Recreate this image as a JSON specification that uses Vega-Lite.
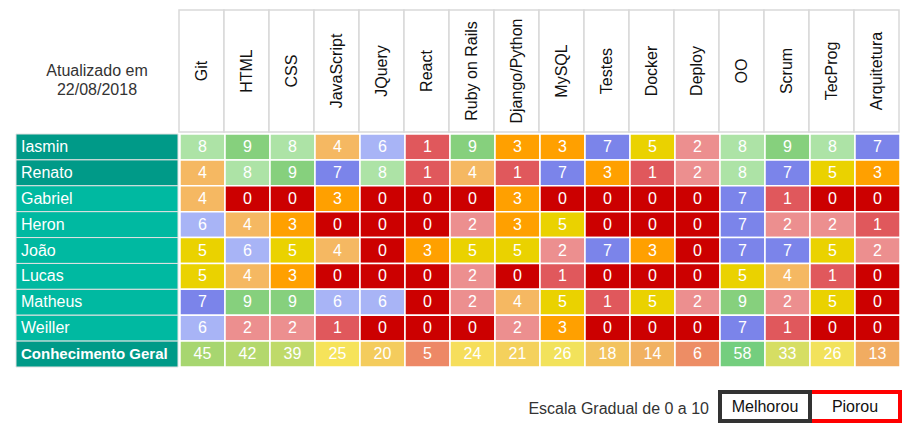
{
  "$schema": "https://vega.github.io/schema/vega-lite/v6.json",
  "padding": {"left": 15, "top": 9, "right": 0, "bottom": 0},
  "config": {"view": {"stroke": null}, "font": "Liberation Sans"},
  "datasets": {
    "skills": [{"s":"Git"},{"s":"HTML"},{"s":"CSS"},{"s":"JavaScript"},{"s":"JQuery"},{"s":"React"},{"s":"Ruby on Rails"},{"s":"Django/Python"},{"s":"MySQL"},{"s":"Testes"},{"s":"Docker"},{"s":"Deploy"},{"s":"OO"},{"s":"Scrum"},{"s":"TecProg"},{"s":"Arquitetura"}],
    "names": [{"p":"Iasmin"},{"p":"Renato"},{"p":"Gabriel"},{"p":"Heron"},{"p":"João"},{"p":"Lucas"},{"p":"Matheus"},{"p":"Weiller"},{"p":"Conhecimento Geral"}],
    "cells": [
      {"p":"Iasmin","s":"Git","v":8},{"p":"Iasmin","s":"HTML","v":9},{"p":"Iasmin","s":"CSS","v":8},{"p":"Iasmin","s":"JavaScript","v":4},{"p":"Iasmin","s":"JQuery","v":6},{"p":"Iasmin","s":"React","v":1},{"p":"Iasmin","s":"Ruby on Rails","v":9},{"p":"Iasmin","s":"Django/Python","v":3},{"p":"Iasmin","s":"MySQL","v":3},{"p":"Iasmin","s":"Testes","v":7},{"p":"Iasmin","s":"Docker","v":5},{"p":"Iasmin","s":"Deploy","v":2},{"p":"Iasmin","s":"OO","v":8},{"p":"Iasmin","s":"Scrum","v":9},{"p":"Iasmin","s":"TecProg","v":8},{"p":"Iasmin","s":"Arquitetura","v":7},
      {"p":"Renato","s":"Git","v":4},{"p":"Renato","s":"HTML","v":8},{"p":"Renato","s":"CSS","v":9},{"p":"Renato","s":"JavaScript","v":7},{"p":"Renato","s":"JQuery","v":8},{"p":"Renato","s":"React","v":1},{"p":"Renato","s":"Ruby on Rails","v":4},{"p":"Renato","s":"Django/Python","v":1},{"p":"Renato","s":"MySQL","v":7},{"p":"Renato","s":"Testes","v":3},{"p":"Renato","s":"Docker","v":1},{"p":"Renato","s":"Deploy","v":2},{"p":"Renato","s":"OO","v":8},{"p":"Renato","s":"Scrum","v":7},{"p":"Renato","s":"TecProg","v":5},{"p":"Renato","s":"Arquitetura","v":3},
      {"p":"Gabriel","s":"Git","v":4},{"p":"Gabriel","s":"HTML","v":0},{"p":"Gabriel","s":"CSS","v":0},{"p":"Gabriel","s":"JavaScript","v":3},{"p":"Gabriel","s":"JQuery","v":0},{"p":"Gabriel","s":"React","v":0},{"p":"Gabriel","s":"Ruby on Rails","v":0},{"p":"Gabriel","s":"Django/Python","v":3},{"p":"Gabriel","s":"MySQL","v":0},{"p":"Gabriel","s":"Testes","v":0},{"p":"Gabriel","s":"Docker","v":0},{"p":"Gabriel","s":"Deploy","v":0},{"p":"Gabriel","s":"OO","v":7},{"p":"Gabriel","s":"Scrum","v":1},{"p":"Gabriel","s":"TecProg","v":0},{"p":"Gabriel","s":"Arquitetura","v":0},
      {"p":"Heron","s":"Git","v":6},{"p":"Heron","s":"HTML","v":4},{"p":"Heron","s":"CSS","v":3},{"p":"Heron","s":"JavaScript","v":0},{"p":"Heron","s":"JQuery","v":0},{"p":"Heron","s":"React","v":0},{"p":"Heron","s":"Ruby on Rails","v":2},{"p":"Heron","s":"Django/Python","v":3},{"p":"Heron","s":"MySQL","v":5},{"p":"Heron","s":"Testes","v":0},{"p":"Heron","s":"Docker","v":0},{"p":"Heron","s":"Deploy","v":0},{"p":"Heron","s":"OO","v":7},{"p":"Heron","s":"Scrum","v":2},{"p":"Heron","s":"TecProg","v":2},{"p":"Heron","s":"Arquitetura","v":1},
      {"p":"João","s":"Git","v":5},{"p":"João","s":"HTML","v":6},{"p":"João","s":"CSS","v":5},{"p":"João","s":"JavaScript","v":4},{"p":"João","s":"JQuery","v":0},{"p":"João","s":"React","v":3},{"p":"João","s":"Ruby on Rails","v":5},{"p":"João","s":"Django/Python","v":5},{"p":"João","s":"MySQL","v":2},{"p":"João","s":"Testes","v":7},{"p":"João","s":"Docker","v":3},{"p":"João","s":"Deploy","v":0},{"p":"João","s":"OO","v":7},{"p":"João","s":"Scrum","v":7},{"p":"João","s":"TecProg","v":5},{"p":"João","s":"Arquitetura","v":2},
      {"p":"Lucas","s":"Git","v":5},{"p":"Lucas","s":"HTML","v":4},{"p":"Lucas","s":"CSS","v":3},{"p":"Lucas","s":"JavaScript","v":0},{"p":"Lucas","s":"JQuery","v":0},{"p":"Lucas","s":"React","v":0},{"p":"Lucas","s":"Ruby on Rails","v":2},{"p":"Lucas","s":"Django/Python","v":0},{"p":"Lucas","s":"MySQL","v":1},{"p":"Lucas","s":"Testes","v":0},{"p":"Lucas","s":"Docker","v":0},{"p":"Lucas","s":"Deploy","v":0},{"p":"Lucas","s":"OO","v":5},{"p":"Lucas","s":"Scrum","v":4},{"p":"Lucas","s":"TecProg","v":1},{"p":"Lucas","s":"Arquitetura","v":0},
      {"p":"Matheus","s":"Git","v":7},{"p":"Matheus","s":"HTML","v":9},{"p":"Matheus","s":"CSS","v":9},{"p":"Matheus","s":"JavaScript","v":6},{"p":"Matheus","s":"JQuery","v":6},{"p":"Matheus","s":"React","v":0},{"p":"Matheus","s":"Ruby on Rails","v":2},{"p":"Matheus","s":"Django/Python","v":4},{"p":"Matheus","s":"MySQL","v":5},{"p":"Matheus","s":"Testes","v":1},{"p":"Matheus","s":"Docker","v":5},{"p":"Matheus","s":"Deploy","v":2},{"p":"Matheus","s":"OO","v":9},{"p":"Matheus","s":"Scrum","v":2},{"p":"Matheus","s":"TecProg","v":5},{"p":"Matheus","s":"Arquitetura","v":0},
      {"p":"Weiller","s":"Git","v":6},{"p":"Weiller","s":"HTML","v":2},{"p":"Weiller","s":"CSS","v":2},{"p":"Weiller","s":"JavaScript","v":1},{"p":"Weiller","s":"JQuery","v":0},{"p":"Weiller","s":"React","v":0},{"p":"Weiller","s":"Ruby on Rails","v":0},{"p":"Weiller","s":"Django/Python","v":2},{"p":"Weiller","s":"MySQL","v":3},{"p":"Weiller","s":"Testes","v":0},{"p":"Weiller","s":"Docker","v":0},{"p":"Weiller","s":"Deploy","v":0},{"p":"Weiller","s":"OO","v":7},{"p":"Weiller","s":"Scrum","v":1},{"p":"Weiller","s":"TecProg","v":0},{"p":"Weiller","s":"Arquitetura","v":0},
      {"p":"Conhecimento Geral","s":"Git","v":45},{"p":"Conhecimento Geral","s":"HTML","v":42},{"p":"Conhecimento Geral","s":"CSS","v":39},{"p":"Conhecimento Geral","s":"JavaScript","v":25},{"p":"Conhecimento Geral","s":"JQuery","v":20},{"p":"Conhecimento Geral","s":"React","v":5},{"p":"Conhecimento Geral","s":"Ruby on Rails","v":24},{"p":"Conhecimento Geral","s":"Django/Python","v":21},{"p":"Conhecimento Geral","s":"MySQL","v":26},{"p":"Conhecimento Geral","s":"Testes","v":18},{"p":"Conhecimento Geral","s":"Docker","v":14},{"p":"Conhecimento Geral","s":"Deploy","v":6},{"p":"Conhecimento Geral","s":"OO","v":58},{"p":"Conhecimento Geral","s":"Scrum","v":33},{"p":"Conhecimento Geral","s":"TecProg","v":26},{"p":"Conhecimento Geral","s":"Arquitetura","v":13}
    ]
  },
  "vconcat": [
    {
      "vconcat": [
        {
          "hconcat": [
            {
              "width": 162, "height": 122,
              "data": {"values": [{"t": "Atualizado em\n22/08/2018"}]},
              "mark": {"type": "text", "lineBreak": "\n", "fontSize": 16, "color": "#333333", "lineHeight": 19, "baseline": "middle", "align": "center"},
              "encoding": {"text": {"field": "t"}}
            },
            {
              "width": 720, "height": 122,
              "data": {"name": "skills"},
              "layer": [
                {
                  "mark": {"type": "rect", "fill": "#ffffff", "stroke": "#d9d9d9", "strokeWidth": 1.5},
                  "encoding": {"x": {"field": "s", "type": "nominal", "sort": null, "axis": null, "scale": {"type": "band", "domain": ["Git","HTML","CSS","JavaScript","JQuery","React","Ruby on Rails","Django/Python","MySQL","Testes","Docker","Deploy","OO","Scrum","TecProg","Arquitetura"], "paddingInner": 0, "paddingOuter": 0}}}
                },
                {
                  "mark": {"type": "text", "angle": 270, "fontSize": 16, "color": "#111111", "baseline": "middle", "align": "center"},
                  "encoding": {
                    "x": {"field": "s", "type": "nominal", "sort": null, "axis": null, "scale": {"type": "band", "domain": ["Git","HTML","CSS","JavaScript","JQuery","React","Ruby on Rails","Django/Python","MySQL","Testes","Docker","Deploy","OO","Scrum","TecProg","Arquitetura"], "paddingInner": 0, "paddingOuter": 0}},
                    "text": {"field": "s"}
                  }
                }
              ]
            }
          ],
          "spacing": 0
        },
        {
          "hconcat": [
            {
              "width": 162, "height": 233,
              "data": {"name": "names"},
              "layer": [
                {
                  "mark": {"type": "rect", "stroke": "#e2e2e2", "strokeWidth": 1},
                  "encoding": {
                    "y": {"field": "p", "type": "nominal", "axis": null, "scale": {"type": "band", "domain": ["Iasmin","Renato","Gabriel","Heron","João","Lucas","Matheus","Weiller","Conhecimento Geral"], "paddingInner": 0, "paddingOuter": 0}},
                    "fill": {"field": "p", "type": "nominal", "legend": null, "scale": {"domain": ["Iasmin","Renato","Gabriel","Heron","João","Lucas","Matheus","Weiller","Conhecimento Geral"], "range": ["#009a88","#009a88","#00b9a1","#00b9a1","#00b9a1","#00b9a1","#00b9a1","#00b9a1","#009a88"]}}
                  }
                },
                {
                  "transform": [{"filter": "datum.p !== 'Conhecimento Geral'"}],
                  "mark": {"type": "text", "fontSize": 16, "color": "#ffffff", "align": "left", "baseline": "middle", "dx": 5},
                  "encoding": {
                    "x": {"datum": "n", "type": "nominal", "bandPosition": 0, "axis": null, "scale": {"type": "band", "paddingInner": 0, "paddingOuter": 0}},
                    "y": {"field": "p", "type": "nominal", "axis": null},
                    "text": {"field": "p"}
                  }
                },
                {
                  "transform": [{"filter": "datum.p === 'Conhecimento Geral'"}],
                  "mark": {"type": "text", "fontSize": 15, "fontWeight": "bold", "color": "#ffffff", "align": "left", "baseline": "middle", "dx": 5},
                  "encoding": {
                    "x": {"datum": "n", "type": "nominal", "bandPosition": 0, "axis": null, "scale": {"type": "band", "paddingInner": 0, "paddingOuter": 0}},
                    "y": {"field": "p", "type": "nominal", "axis": null},
                    "text": {"field": "p"}
                  }
                }
              ]
            },
            {
              "width": 720, "height": 233,
              "data": {"name": "cells"},
              "encoding": {
                "x": {"field": "s", "type": "nominal", "sort": null, "axis": null, "scale": {"type": "band", "domain": ["Git","HTML","CSS","JavaScript","JQuery","React","Ruby on Rails","Django/Python","MySQL","Testes","Docker","Deploy","OO","Scrum","TecProg","Arquitetura"], "paddingInner": 0, "paddingOuter": 0}},
                "y": {"field": "p", "type": "nominal", "axis": null, "scale": {"type": "band", "domain": ["Iasmin","Renato","Gabriel","Heron","João","Lucas","Matheus","Weiller","Conhecimento Geral"], "paddingInner": 0, "paddingOuter": 0}}
              },
              "layer": [
                {
                  "transform": [{"filter": "datum.p !== 'Conhecimento Geral'"}],
                  "mark": {"type": "rect", "stroke": "#ffffff", "strokeWidth": 1.5},
                  "encoding": {
                    "fill": {"field": "v", "type": "ordinal", "legend": null, "scale": {"domain": [0,1,2,3,4,5,6,7,8,9,10], "range": ["#cc0000","#e0585c","#ec8f8f","#ffa000","#f5b862","#ead200","#a8b4f6","#7b84ea","#ade3a6","#86d07d","#57bb8a"]}}
                  }
                },
                {
                  "transform": [{"filter": "datum.p === 'Conhecimento Geral'"}],
                  "mark": {"type": "rect", "stroke": "#ffffff", "strokeWidth": 1.5},
                  "encoding": {
                    "fill": {"field": "v", "type": "quantitative", "legend": null, "scale": {"type": "linear", "domain": [5, 25, 58], "range": ["#ed8866", "#f6e35a", "#74ce7e"], "interpolate": "rgb"}}
                  }
                },
                {
                  "mark": {"type": "text", "fontSize": 16, "color": "#ffffff", "align": "center", "baseline": "middle"},
                  "encoding": {"text": {"field": "v", "type": "quantitative"}}
                }
              ],
              "resolve": {"scale": {"fill": "independent"}}
            }
          ],
          "spacing": 0
        }
      ],
      "spacing": 0
    },
    {
      "hconcat": [
        {
          "width": 702, "height": 29,
          "data": {"values": [{"t": "Escala Gradual de 0 a 10"}]},
          "mark": {"type": "text", "fontSize": 16, "color": "#333333", "align": "right", "baseline": "middle", "dx": -9, "dy": 2},
          "encoding": {
            "x": {"datum": "n", "type": "nominal", "bandPosition": 1, "axis": null, "scale": {"type": "band", "paddingInner": 0, "paddingOuter": 0}},
            "text": {"field": "t"}
          }
        },
        {
          "width": 180, "height": 29,
          "data": {"values": [{"b": "Piorou"}, {"b": "Melhorou"}]},
          "layer": [
            {
              "mark": {"type": "rect", "fill": "#ffffff", "strokeWidth": 4},
              "encoding": {
                "x": {"field": "b", "type": "nominal", "axis": null, "scale": {"type": "band", "domain": ["Melhorou", "Piorou"], "paddingInner": 0, "paddingOuter": 0}},
                "stroke": {"field": "b", "type": "nominal", "legend": null, "scale": {"domain": ["Melhorou", "Piorou"], "range": ["#333333", "#ff0000"]}}
              }
            },
            {
              "mark": {"type": "text", "fontSize": 16, "color": "#111111", "align": "center", "baseline": "middle"},
              "encoding": {
                "x": {"field": "b", "type": "nominal", "axis": null, "scale": {"type": "band", "domain": ["Melhorou", "Piorou"], "paddingInner": 0, "paddingOuter": 0}},
                "text": {"field": "b"}
              }
            }
          ]
        }
      ],
      "spacing": 0
    }
  ],
  "spacing": 22
}
